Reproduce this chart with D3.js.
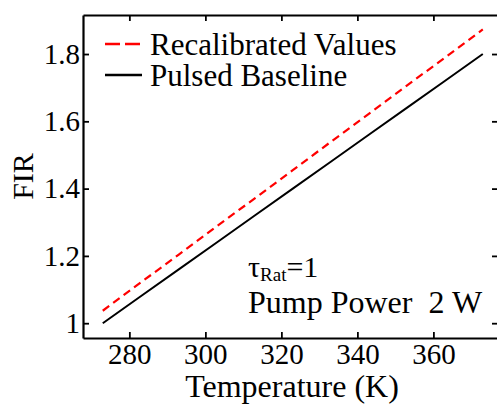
<!DOCTYPE html>
<html><head><meta charset="utf-8">
<script src="https://cdn.jsdelivr.net/npm/d3@7"></script>
</head>
<body style="margin:0;background:#fff"><svg id="c" width="497" height="404" font-family="Liberation Serif"></svg>
<script>
const temperatures = [273, 283, 293, 303, 313, 323, 333, 343, 353, 363, 373];
const recalibrated = [1.037, 1.121, 1.204, 1.288, 1.371, 1.455, 1.539, 1.622, 1.706, 1.789, 1.873];
const pulsedBaseline = [1.000, 1.080, 1.160, 1.240, 1.320, 1.400, 1.480, 1.560, 1.640, 1.720, 1.800];
const xTicks = [280, 300, 320, 340, 360];
const yTicks = [1, 1.2, 1.4, 1.6, 1.8];
const yTickLabels = ["1", "1.2", "1.4", "1.6", "1.8"];
const seriesNames = ["Recalibrated Values", "Pulsed Baseline"];

const FF = "Liberation Serif";
const svg = d3.select("#c");
const L = 83, R = 498, T = 15, B = 338;
const x = d3.scaleLinear().domain([267.8, 377]).range([L, R]);
const y = d3.scaleLinear().domain([0.956, 1.916]).range([B, T]);
const fs = 29;

function styleAxis(g){
  g.attr("font-family", FF).attr("font-size", fs);
  g.selectAll(".domain").attr("stroke","#000").attr("stroke-width",2.2);
  g.selectAll(".tick line").attr("stroke","#000").attr("stroke-width",1.8);
  g.selectAll(".tick text").attr("font-size",fs).attr("font-family",FF).attr("fill","#000");
}
svg.append("g").attr("transform",`translate(0,${B})`)
  .call(d3.axisBottom(x).tickValues(xTicks).tickSize(-6).tickSizeOuter(0).tickPadding(5))
  .call(styleAxis);
svg.append("g").attr("transform",`translate(0,${T})`)
  .call(d3.axisTop(x).tickValues(xTicks).tickSize(-6).tickSizeOuter(0).tickFormat(""))
  .call(styleAxis);
svg.append("g").attr("transform",`translate(${L},0)`)
  .call(d3.axisLeft(y).tickValues(yTicks).tickSize(-6).tickSizeOuter(0).tickPadding(3)
    .tickFormat((d,i)=>yTickLabels[i]))
  .call(styleAxis);
svg.append("g").attr("transform",`translate(${R},0)`)
  .call(d3.axisRight(y).tickValues(yTicks).tickSize(-6).tickSizeOuter(0).tickFormat(""))
  .call(styleAxis);

const line = d3.line().x(d=>x(d[0])).y(d=>y(d[1]));
svg.append("path").datum(temperatures.map((t,i)=>[t,pulsedBaseline[i]]))
  .attr("d",line).attr("fill","none").attr("stroke","#000").attr("stroke-width",2);
svg.append("path").datum(temperatures.map((t,i)=>[t,recalibrated[i]]))
  .attr("d",line).attr("fill","none").attr("stroke","#ff0000").attr("stroke-width",2.2)
  .attr("stroke-dasharray","8,5");

// legend
svg.append("line").attr("x1",105).attr("x2",142).attr("y1",44).attr("y2",44)
  .attr("stroke","#ff0000").attr("stroke-width",2.6).attr("stroke-dasharray","15,5");
svg.append("line").attr("x1",105).attr("x2",142).attr("y1",75).attr("y2",75)
  .attr("stroke","#000").attr("stroke-width",2.6);
svg.append("text").attr("x",150).attr("y",55).attr("font-family",FF).attr("font-size",31).text(seriesNames[0]);
svg.append("text").attr("x",150).attr("y",86).attr("font-family",FF).attr("font-size",31).text(seriesNames[1]);

// annotation
const t1 = svg.append("text").attr("x",248).attr("y",277).attr("font-family",FF).attr("font-size",30);
t1.append("tspan").text("τ");
t1.append("tspan").attr("font-size",19).attr("dy",4).text("Rat");
t1.append("tspan").attr("dy",-4).text("=1");
svg.append("text").attr("x",248).attr("y",313).attr("font-family",FF).attr("font-size",32)
  .text("Pump Power\u00a0 2 W");

// axis titles
svg.append("text").attr("x",292).attr("y",397).attr("text-anchor","middle")
  .attr("font-family",FF).attr("font-size",32).text("Temperature (K)");
svg.append("text").attr("transform",`translate(33,${(T+B)/2}) rotate(-90)`)
  .attr("text-anchor","middle").attr("font-family",FF).attr("font-size",30).text("FIR");
</script></body></html>
